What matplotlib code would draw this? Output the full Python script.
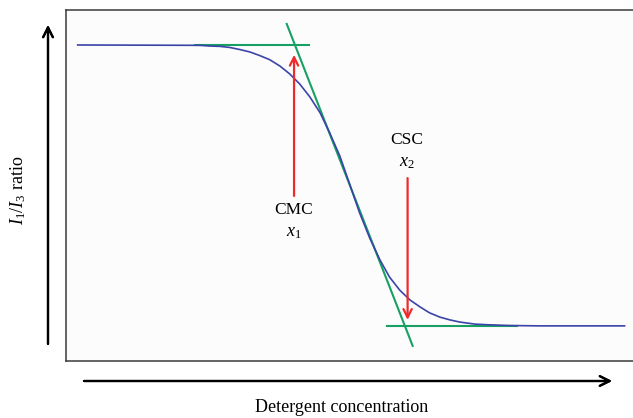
import matplotlib.pyplot as plt

plt.rcParams['font.family'] = ['Liberation Serif', 'DejaVu Serif']
plt.rcParams['mathtext.fontset'] = 'custom'
plt.rcParams['mathtext.rm'] = 'Liberation Serif'
plt.rcParams['mathtext.it'] = 'Liberation Serif:italic'

#%% data
conc = [0.21, 2.37, 2.55, 2.73, 2.90, 3.08, 3.26, 3.43, 3.61, 3.79, 3.96, 4.14,
        4.32, 4.50, 4.67, 4.85, 5.03, 5.20, 5.38, 5.56, 5.73, 5.91, 6.09, 6.27,
        6.44, 6.62, 6.80, 6.97, 7.24, 7.50, 7.86, 8.39, 9.89]
ratio = [1.900, 1.899, 1.897, 1.896, 1.893, 1.887, 1.880, 1.870, 1.858, 1.840,
         1.818, 1.789, 1.752, 1.707, 1.650, 1.584, 1.501, 1.422, 1.350, 1.288,
         1.239, 1.202, 1.174, 1.154, 1.137, 1.125, 1.117, 1.111, 1.105, 1.103,
         1.101, 1.100, 1.100]

top_x, top_y = [2.28, 4.30], [1.900, 1.900]
slope_x, slope_y = [3.91, 6.14], [1.960, 1.043]
bottom_x, bottom_y = [5.68, 7.98], [1.100, 1.100]

cmc_x, cmc_from, cmc_to = 4.04, 1.470, 1.872
csc_x, csc_from, csc_to = 6.05, 1.521, 1.117

#%% figure
fig = plt.figure(figsize=(6.33, 4.18), dpi=100)
ax = fig.add_axes([0.104, 0.1364, 0.896, 0.840])
ax.set_xlim(0, 10.04)
ax.set_ylim(1.0, 2.0)
ax.set_xticks([])
ax.set_yticks([])
ax.set_facecolor('#fcfcfc')
for s in ['left', 'top', 'bottom']:
    ax.spines[s].set_color('#3a3a3a')
    ax.spines[s].set_linewidth(1.1)
ax.spines['right'].set_visible(False)

# curve and tangents
ax.plot(conc, ratio, color='#3a44a8', linewidth=1.2, zorder=3, solid_joinstyle='round')
ax.plot(top_x, top_y, color='#18a063', linewidth=1.5, zorder=2)
ax.plot(slope_x, slope_y, color='#18a063', linewidth=1.5, zorder=2)
ax.plot(bottom_x, bottom_y, color='#18a063', linewidth=1.5, zorder=2)

# red arrows
red = dict(arrowstyle='->,head_length=0.6,head_width=0.3', color='#f02a2a',
           linewidth=1.6, shrinkA=0, shrinkB=0)
ax.annotate('', xy=(cmc_x, cmc_to), xytext=(cmc_x, cmc_from), arrowprops=red, zorder=4)
ax.annotate('', xy=(csc_x, csc_to), xytext=(csc_x, csc_from), arrowprops=red, zorder=4)

# labels
ax.text(cmc_x, 1.43, 'CMC', ha='center', va='center', fontsize=12.5)
ax.text(cmc_x, 1.365, '$x_1$', ha='center', va='center', fontsize=13)
ax.text(6.03, 1.63, 'CSC', ha='center', va='center', fontsize=12.5)
ax.text(6.03, 1.564, '$x_2$', ha='center', va='center', fontsize=13)

# axis arrows outside the box
black = dict(arrowstyle='->,head_length=0.7,head_width=0.35', color='black',
             linewidth=1.6, shrinkA=0, shrinkB=0)
fig.add_artist(plt.annotate('', xy=(48 / 633, 1 - 25 / 418), xytext=(48 / 633, 1 - 344 / 418),
                            xycoords='figure fraction', arrowprops=black))
fig.add_artist(plt.annotate('', xy=(612 / 633, 1 - 381 / 418), xytext=(84 / 633, 1 - 381 / 418),
                            xycoords='figure fraction', arrowprops=black))

fig.text(18 / 633, 1 - 190 / 418, '$I_1/I_3$ ratio', rotation=90, ha='center', va='center',
         fontsize=13)
fig.text(342 / 633, 1 - 407 / 418, 'Detergent concentration', ha='center', va='center',
         fontsize=13)

fig.savefig('out.png', dpi=100)
